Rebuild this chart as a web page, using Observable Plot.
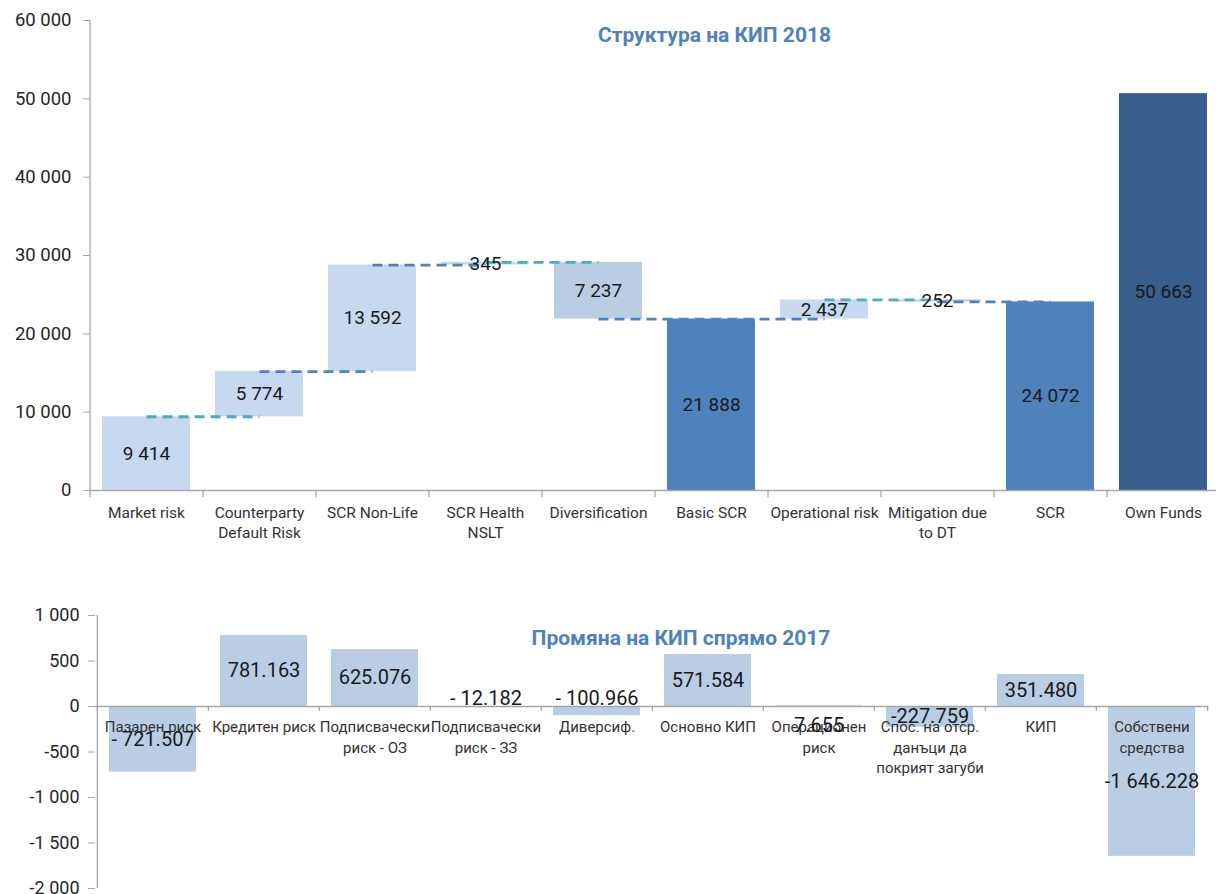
<!DOCTYPE html>
<html>
<head>
<meta charset="utf-8">
<script src="https://cdn.jsdelivr.net/npm/d3@7"></script>
<script src="https://cdn.jsdelivr.net/npm/@observablehq/plot@0.6"></script>
<style>
  body { margin: 0; background: #fff; font-family: Roboto, "Noto Sans", sans-serif; }
  #chart { width: 1216px; overflow: hidden; }
  #chart svg { display: block; overflow: visible; }
</style>
</head>
<body>
<div id="chart"></div>
<script>
// ---------- DATA ----------
const title1 = "Структура на КИП 2018";
const categories1 = ["Market risk", "Counterparty\nDefault Risk", "SCR Non-Life", "SCR Health\nNSLT", "Diversification", "Basic SCR", "Operational risk", "Mitigation due\nto DT", "SCR", "Own Funds"];
const values1 = [9414, 5774, 13592, 345, -7237, 21888, 2437, -252, 24072, 50663];
const kinds1 = ["delta", "delta", "delta", "delta", "delta", "subtotal", "delta", "delta", "subtotal", "reference"];
const yTicks1 = [0, 10000, 20000, 30000, 40000, 50000, 60000];

const title2 = "Промяна на КИП спрямо 2017";
const categories2 = ["Пазарен риск", "Кредитен риск", "Подписвачески\nриск - ОЗ", "Подписвачески\nриск - ЗЗ", "Диверсиф.", "Основно КИП", "Операционен\nриск", "Спос. на отср.\nданъци да\nпокрият загуби", "КИП", "Собствени\nсредства"];
const values2 = [-721.507, 781.163, 625.076, -12.182, -100.966, 571.584, 7.655, -227.759, 351.480, -1646.228];
const valueLabels2 = ["- 721.507", "781.163", "625.076", "- 12.182", "- 100.966", "571.584", "7.655", "-227.759", "351.480", "-1 646.228"];
const yTicks2 = [-2000, -1500, -1000, -500, 0, 500, 1000];

// ---------- STYLE / LAYOUT ----------
const W = 1216;
const axisGray = "#a6a6a6";
const textDark = "#262626";
const titleBlue = "#4f81bd";
const fmt = d3.formatLocale({decimal: ".", thousands: " ", grouping: [3], currency: ["", ""], minus: "-"}).format(",");

// ---------- TOP: waterfall ----------
let run = 0;
const rows1 = categories1.map((c, i) => {
  const v = values1[i], k = kinds1[i];
  let y1, y2;
  if (k === "delta") { y1 = run; y2 = run + v; run += v; }
  else { y1 = 0; y2 = v; if (k === "subtotal") run = v; }
  return {c, v, k, y1, y2, mid: (y1 + y2) / 2, after: run, label: fmt(Math.abs(v)), i};
});
const links1 = rows1.slice(0, -1)
  .filter((r, i) => rows1[i + 1].k !== "reference")
  .map(r => ({a: r.c, b: rows1[r.i + 1].c, level: r.after, i: r.i}));

const fillOf = d => d.k === "subtotal" ? "#4f81bd" : d.k === "reference" ? "#385e8e" : d.v < 0 ? "#b9cde5" : "#c6d9f1";

const m1 = {left: 90, right: -4, top: 20, bottom: 80};
const H1 = 570;
const step1 = (W - m1.left - m1.right) / categories1.length;

const chartTop = Plot.plot({
  width: W, height: H1,
  marginLeft: m1.left, marginRight: m1.right, marginTop: m1.top, marginBottom: m1.bottom,
  style: {fontFamily: "Roboto, 'Noto Sans', sans-serif", background: "white", overflow: "visible"},
  x: {domain: categories1, paddingInner: 0.22, paddingOuter: 0.11, axis: null},
  y: {domain: [0, 60000], axis: null},
  color: {type: "identity"},
  marks: [
    Plot.barY(rows1, {x: "c", y1: "y1", y2: "y2", fill: fillOf}),
    Plot.link(links1, {x1: "a", x2: "b", y1: "level", y2: "level",
      stroke: d => d.i % 3 === 0 ? "#4bacc6" : "#4f81bd",
      strokeWidth: 2.8, strokeDasharray: "10,6"}),
    Plot.ruleY([0], {stroke: axisGray, strokeWidth: 1.3}),
    Plot.ruleX([categories1[0]], {dx: -step1 / 2, stroke: axisGray, strokeWidth: 1.3}),
    Plot.ruleX(categories1, {x: d => d, dx: -step1 / 2, y1: 0, y2: 0, insetBottom: -7, stroke: axisGray, strokeWidth: 1.3}),
    Plot.axisY({ticks: yTicks1, tickFormat: fmt, tickSize: 7, tickPadding: 12, fontSize: 18.5, stroke: axisGray, fill: textDark}),
    Plot.text(rows1, {x: "c", y: "mid", text: "label", fontSize: 19, fill: "#1a1a1a"}),
    Plot.text(categories1, {x: d => d, y: 0, text: d => d, lineAnchor: "top", dy: 14, fontSize: 15.5, lineHeight: 1.25, fill: "#333"}),
    Plot.text([title1], {text: d => d, frameAnchor: "top", lineAnchor: "middle", dx: 59, dy: 15, fontSize: 21, fontWeight: "bold", fill: titleBlue})
  ]
});

// ---------- BOTTOM: change vs 2017 ----------
const rows2 = categories2.map((c, i) => ({c, v: values2[i], mid: values2[i] / 2, label: valueLabels2[i]}));
const m2 = {left: 95, right: 8, top: 45, bottom: 6};
const H2 = 894 - H1;
const step2 = (W - m2.left - m2.right) / categories2.length;

const chartBottom = Plot.plot({
  width: W, height: H2,
  marginLeft: m2.left, marginRight: m2.right, marginTop: m2.top, marginBottom: m2.bottom,
  style: {fontFamily: "Roboto, 'Noto Sans', sans-serif", background: "white", overflow: "visible"},
  x: {domain: categories2, paddingInner: 0.22, paddingOuter: 0.11, axis: null},
  y: {domain: [-2000, 1000], axis: null},
  marks: [
    Plot.barY(rows2, {x: "c", y: "v", fill: "#b9cde5"}),
    Plot.ruleY([0], {stroke: axisGray, strokeWidth: 1.3}),
    Plot.ruleX([categories2[0]], {dx: -step2 / 2, stroke: axisGray, strokeWidth: 1.3}),
    Plot.ruleX(categories2, {x: d => d, dx: -step2 / 2, y1: 0, y2: 0, insetBottom: -5, stroke: axisGray, strokeWidth: 1.3}),
    Plot.ruleX([categories2[categories2.length - 1]], {x: d => d, dx: step2 / 2, y1: 0, y2: 0, insetBottom: -5, stroke: axisGray, strokeWidth: 1.3}),
    Plot.axisY({ticks: yTicks2, tickFormat: fmt, tickSize: 7, tickPadding: 9, fontSize: 18, stroke: axisGray, fill: textDark}),
    Plot.text(categories2, {x: d => d, y: 0, text: d => d, lineAnchor: "top", dy: 11, fontSize: 15, lineHeight: 1.37, fill: "#333"}),
    Plot.text(rows2, {filter: d => Math.abs(d.v) >= 150, x: "c", y: "mid", text: "label", fontSize: 20, fill: "#1a1a1a"}),
    Plot.text(rows2, {filter: d => Math.abs(d.v) < 150 && d.v < 0, x: "c", y: 0, text: "label", dy: -8, fontSize: 20, fill: "#1a1a1a"}),
    Plot.text(rows2, {filter: d => Math.abs(d.v) < 150 && d.v >= 0, x: "c", y: 0, text: "label", dy: 19, fontSize: 20, fill: "#1a1a1a"}),
    Plot.text([title2], {text: d => d, frameAnchor: "top", lineAnchor: "middle", dx: 29, dy: 23, fontSize: 21, fontWeight: "bold", fill: titleBlue})
  ]
});

document.getElementById("chart").append(chartTop, chartBottom);
</script>
</body>
</html>
